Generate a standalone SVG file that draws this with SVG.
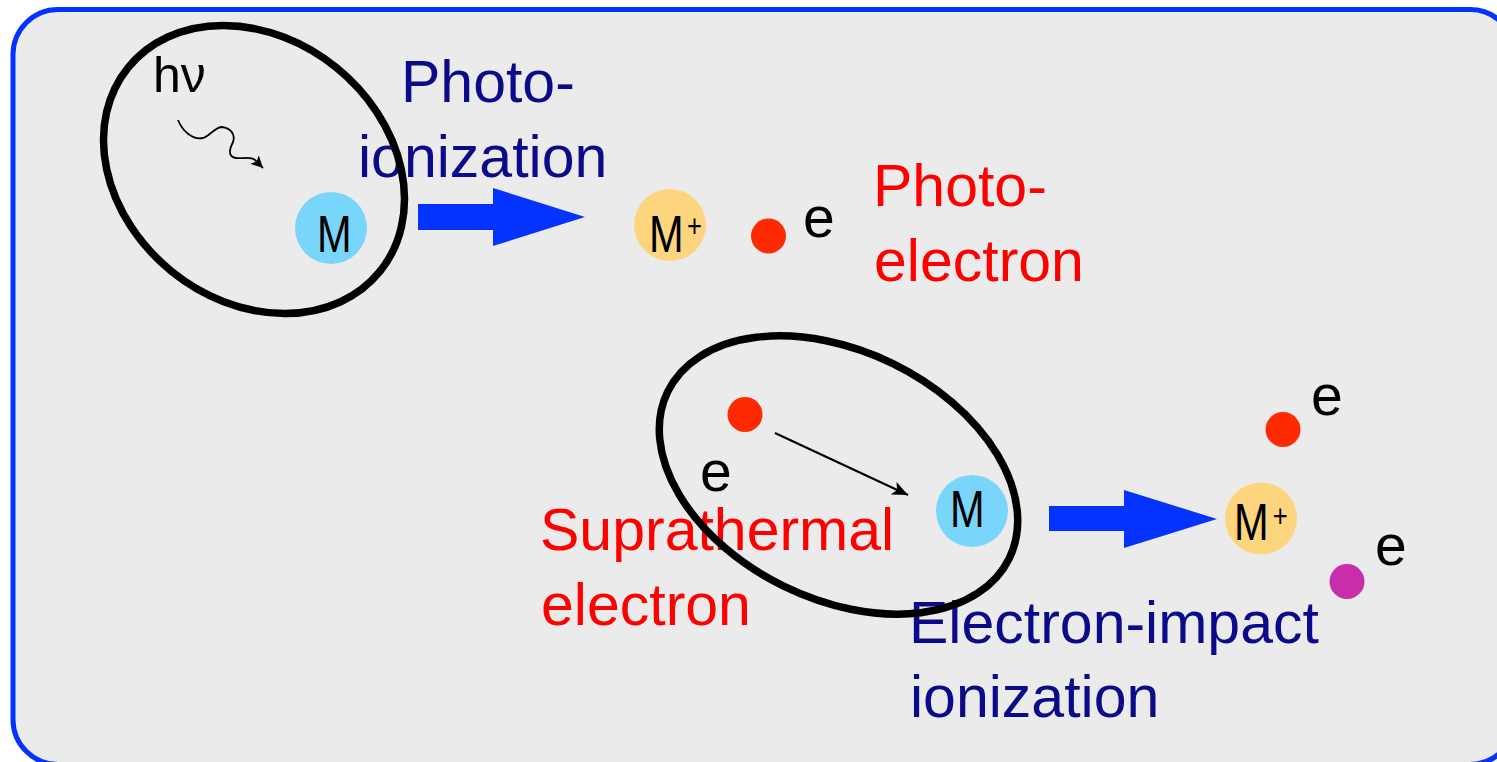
<svg xmlns="http://www.w3.org/2000/svg" width="1497" height="762" viewBox="0 0 1497 762">
<style>
.t{font-family:"Liberation Sans",Arial,sans-serif;}
.navy{fill:#0A0A8A;font-size:59px;}
.red{fill:#FF0000;font-size:59px;}
.lbl{fill:#000;font-size:57px;}
.ring{fill:none;stroke:#000;stroke-width:7.5;}
.mol{fill:#7AD5FB;}
.ion{fill:#FDD57E;}
.el{fill:#FF2A00;}
.el2{fill:#C82EA9;}
.blk{fill:#0433FF;}
.mt{font-size:52px;fill:#000;}
.pl{font-size:32px;fill:#000;}
</style>
<defs>
<marker id="ah" markerUnits="userSpaceOnUse" markerWidth="18" markerHeight="14" refX="16" refY="7" orient="auto">
<path d="M0,0 L16,7 L0,14 L4,7 Z" fill="#000"/>
</marker>
<marker id="ah2" markerUnits="userSpaceOnUse" markerWidth="14" markerHeight="12" refX="12" refY="6" orient="auto">
<path d="M0,0 L12,6 L0,12 L3,6 Z" fill="#000"/>
</marker>
</defs>
<rect x="0" y="0" width="1497" height="762" fill="#FFFFFF"/>
<rect id="frame" x="13" y="9.5" width="1502" height="755" rx="45" ry="45" fill="#EBEBEB" stroke="#0433FF" stroke-width="5"/>

<g id="label-photoionization">
<text class="t navy" x="401" y="102">Photo-</text>
<text class="t navy" x="358" y="177">ionization</text>
</g>
<g id="label-photoelectron">
<text class="t red" x="873" y="206">Photo-</text>
<text class="t red" x="874" y="281">electron</text>
</g>
<g id="label-suprathermal">
<text class="t red" x="540" y="550">Suprathermal</text>
<text class="t red" x="541" y="625">electron</text>
</g>
<g id="label-eii">
<text class="t navy" x="909" y="643">Electron-impact</text>
<text class="t navy" x="910" y="717">ionization</text>
</g>

<g id="photon">
<text class="t" x="153" y="92" font-size="50" fill="#000">hν</text>
</g>

<g id="M1">
<circle class="mol" cx="331" cy="228" r="36"/>
<text class="t mt" transform="translate(317 252) scale(0.8 1)" x="0" y="0">M</text>
</g>
<g id="Mplus1">
<circle class="ion" cx="670" cy="225" r="36"/>
<text class="t mt" transform="translate(649 252) scale(0.8 1)" x="0" y="0">M<tspan class="pl" x="47.5" y="-15">+</tspan></text>
</g>
<g id="e1">
<circle class="el" cx="768.5" cy="236" r="17.5"/>
<text class="t lbl" x="803" y="237">e</text>
</g>

<g id="e-supra">
<circle class="el" cx="745" cy="414.5" r="17.5"/>
<text class="t lbl" x="700" y="491">e</text>
</g>
<g id="M2">
<circle class="mol" cx="972" cy="511" r="36"/>
<text class="t mt" transform="translate(950 527) scale(0.8 1)" x="0" y="0">M</text>
</g>
<g id="Mplus2">
<circle class="ion" cx="1261" cy="518.5" r="36"/>
<text class="t mt" transform="translate(1234 540) scale(0.8 1)" x="0" y="0">M<tspan class="pl" x="48.5" y="-13">+</tspan></text>
</g>
<g id="e2">
<circle class="el" cx="1283" cy="429.5" r="17.5"/>
<text class="t lbl" x="1311" y="415">e</text>
</g>
<g id="e3">
<circle class="el2" cx="1347" cy="581.5" r="17.5"/>
<text class="t lbl" x="1375" y="565">e</text>
</g>

<g id="regions">
<ellipse class="ring" cx="254" cy="169.5" rx="162" ry="131" transform="rotate(39 254 169.5)"/>
<ellipse class="ring" cx="838.5" cy="475" rx="190" ry="124" transform="rotate(26 838.5 475)"/>
</g>

<g id="connectors">
<polygon class="blk" points="418,204 493,204 493,188 585,217 493,246 493,230 418,230"/>
<polygon class="blk" points="1049,506 1124,506 1124,490 1217,519 1124,548 1124,531 1049,531"/>
<line x1="775" y1="433" x2="908" y2="495" stroke="#000" stroke-width="2.2" marker-end="url(#ah)"/>
<path d="M178,120 C183,132 193,140 203,138 C210,136 215,127 222,127 C230,128 236,134 233,142 C229,150 228,157 236,158 C243,159 250,156 255,160 L263,168" fill="none" stroke="#000" stroke-width="1.8" marker-end="url(#ah2)"/>
</g>
</svg>
